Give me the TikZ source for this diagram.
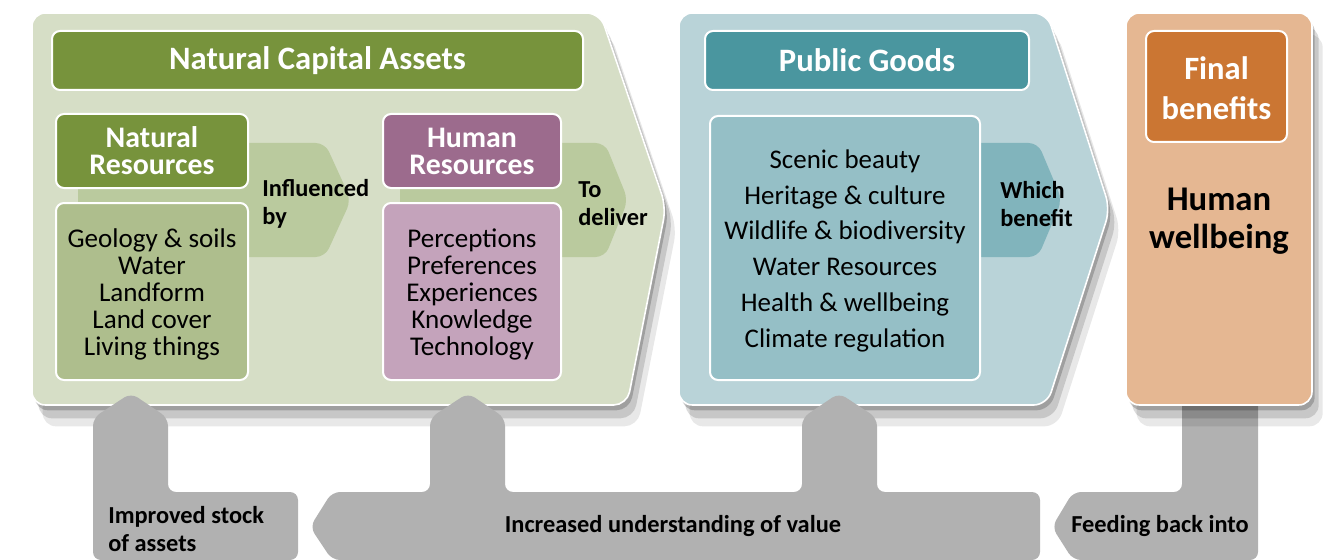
\documentclass[tikz,border=0pt]{standalone}
\usepackage{fontspec}
\setmainfont{Carlito}
\usetikzlibrary{fit,shadows}

\definecolor{panelgreen}{HTML}{D6DEC6}
\definecolor{headgreen}{HTML}{77933C}
\definecolor{listgreen}{HTML}{AEBE8D}
\definecolor{chevgreen}{HTML}{BACA9E}
\definecolor{headplum}{HTML}{9C6B8D}
\definecolor{listplum}{HTML}{C4A3BB}
\definecolor{panelblue}{HTML}{B9D3D8}
\definecolor{headteal}{HTML}{4A969F}
\definecolor{listblue}{HTML}{95BFC6}
\definecolor{chevblue}{HTML}{81B4BC}
\definecolor{panelorange}{HTML}{E5B792}
\definecolor{headorange}{HTML}{CB7633}
\definecolor{arrowgrey}{HTML}{B1B1B1}

\begin{document}
\begin{tikzpicture}[
  x=0.75pt, y=-0.75pt,
  panel/.style={draw=white, line width=1.2pt, rounded corners=10pt,
    drop shadow={shadow xshift=2pt, shadow yshift=-4pt, opacity=.2, fill=black},
    drop shadow={shadow xshift=5pt, shadow yshift=-10pt, opacity=.14, fill=black},
    drop shadow={shadow xshift=8pt, shadow yshift=-16pt, opacity=.09, fill=black}},
  chev/.style={rounded corners=7pt},
  box/.style={draw=white, line width=1.5pt, rounded corners=6pt, inner sep=0pt},
  headtext/.style={text=white, align=center, inner sep=0pt, font=\bfseries\fontsize{24.5pt}{26pt}\selectfont},
  subtext/.style={text=white, align=center, inner sep=0pt, font=\bfseries\fontsize{22.4pt}{20.3pt}\selectfont},
  listtext/.style={align=center, inner sep=0pt, font=\fontsize{20.3pt}{20.3pt}\selectfont},
  link/.style={align=left, inner sep=0pt, font=\bfseries\fontsize{18.3pt}{21pt}\selectfont},
  feedback/.style={fill=arrowgrey, rounded corners=6pt}
]
\useasboundingbox (0,0) rectangle (1329,560);

% feeding back arrow sits under the orange panel
\fill[feedback] (1052,527) -- (1073,492) -- (1182,492) -- (1182,398)
  -- (1258,398) -- (1258,560) -- (1073,560) -- cycle;

% Panels
\path[panel, fill=panelgreen] (32,13) -- (600,13) -- (666,207) -- (627,405) -- (32,405) -- cycle;
\path[panel, fill=panelblue] (679,13) -- (1047,13) -- (1110,209) -- (1047,405) -- (679,405) -- cycle;
\path[panel, fill=panelorange] (1126,13) rectangle (1312,405);

% Chevrons behind the boxes
\fill[chev, chevgreen] (78,143) -- (325,143) -- (351,200) -- (325,257) -- (78,257) -- cycle;
\fill[chev, chevgreen] (400,143) -- (605,143) -- (628,200) -- (605,257) -- (400,257) -- cycle;
\fill[chev, chevblue] (900,143) -- (1038,143) -- (1062,200) -- (1038,257) -- (900,257) -- cycle;

% Boxes
\node[box, fill=headgreen, fit={(52,31) (583,90)}] (nca) {};
\node[box, fill=headgreen, fit={(56,114) (248,188)}] (natres) {};
\node[box, fill=listgreen, fit={(56,203) (248,380)}] (natlist) {};
\node[box, fill=headplum, fit={(383,114) (561,188)}] (humres) {};
\node[box, fill=listplum, fit={(383,203) (561,380)}] (humlist) {};
\node[box, fill=headteal, fit={(705,31) (1029,90)}] (pg) {};
\node[box, fill=listblue, fit={(710,116) (980,380)}] (pglist) {};
\node[box, fill=headorange, fit={(1146,31) (1287,142)}] (fb) {};

% Box texts
\node[headtext] (ncatext) at (nca.center) {Natural Capital Assets};
\node[subtext] (natrestext) at (natres.center) {Natural\\Resources};
\node[listtext] (natlisttext) at ([yshift=-2pt]natlist.center)
  {Geology \& soils\\Water\\Landform\\Land cover\\Living things};
\node[subtext] (humrestext) at (humres.center) {Human\\Resources};
\node[listtext] (humlisttext) at ([yshift=-2pt]humlist.center)
  {Perceptions\\Preferences\\Experiences\\Knowledge\\Technology};
\node[headtext] (pgtext) at (pg.center) {Public Goods};
\node[listtext, font=\fontsize{20.2pt}{26.8pt}\selectfont] (pglisttext) at ([yshift=-2pt]pglist.center)
  {Scenic beauty\\Heritage \& culture\\Wildlife \& biodiversity\\Water Resources\\Health \& wellbeing\\Climate regulation};
\node[headtext, font=\bfseries\fontsize{24.4pt}{30pt}\selectfont] (fbtext) at ([yshift=-1pt]fb.center) {Final\\benefits};
\node[align=center, inner sep=0pt, font=\bfseries\fontsize{26pt}{28.5pt}\selectfont] (hw) at (1219,221) {Human\\wellbeing};

% Chevron labels
\node[link, anchor=west] (infl) at (262,204) {Influenced\\by};
\node[link, anchor=west] (deliver) at (578,204) {To\\deliver};
\node[link, anchor=west] (benefit) at (1000,204) {Which\\benefit};

% Grey feedback arrows
\fill[feedback] (93,560) -- (93,418) -- (131,393) -- (168,418) -- (168,492)
  -- (298,492) -- (298,560) -- cycle;
\fill[feedback] (310,527) -- (332,492) -- (430,492) -- (430,418) -- (468,393)
  -- (505,418) -- (505,492) -- (802,492) -- (802,418) -- (839,393) -- (877,418)
  -- (877,492) -- (1040,492) -- (1040,560) -- (332,560) -- cycle;

\node[link, anchor=west, font=\bfseries\fontsize{18.3pt}{20.3pt}\selectfont] (stock) at (108,529) {Improved stock\\of assets};
\node[link] (value) at (673,526) {Increased understanding of value};
\node[link] (feed) at (1160,526) {Feeding back into};
\end{tikzpicture}
\end{document}
